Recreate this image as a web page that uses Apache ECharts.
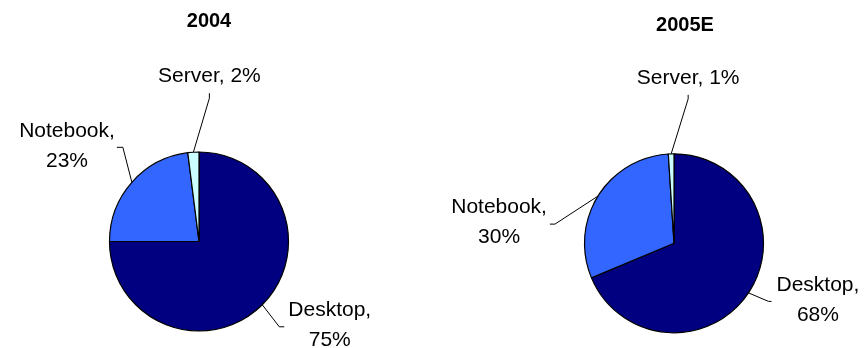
<!DOCTYPE html>
<html>
<head>
<meta charset="utf-8">
<title>PC unit mix by form factor</title>
<script src="https://cdn.jsdelivr.net/npm/echarts@6/dist/echarts.min.js"></script>
<style>
  html, body { margin: 0; padding: 0; background: #fff; }
  #chart { width: 866px; height: 348px; }
</style>
</head>
<body>
<div id="chart"></div>
<script>
// Form factors and their share of units (%)
const categories = ['Desktop', 'Notebook', 'Server'];
const share2004 = [75, 23, 2];
const share2005E = [68, 30, 1];
const yearTitles = ['2004', '2005E'];

const sliceColors = ['#000080', '#3366FF', '#CCFFFF'];
const FONT = "'Liberation Sans', Arial, sans-serif";

// Leader-line shape per slice: offsets from the slice's outer edge
// (bend point, line end), which side the label sits on, and spacing.
const guides2004 = [
  { bend: [17, 22], end: [22, 22], side: 'right', gap: 4, dy: -2 },
  { bend: [-9, -35], end: [-15, -35], side: 'left', gap: 2, dy: -1.5 },
  { bend: [16, -54], end: [16, -59], side: 'top', gap: 2 }
];
const guides2005E = [
  { bend: [20, 8.5], end: [23, 8.5], side: 'right', gap: 5, dy: -1.5 },
  { bend: [-43, 28], end: [-48, 28], side: 'left', gap: 3, dy: -2 },
  { bend: [17, -55], end: [17, -59], side: 'top', gap: 2 }
];

function placeLabels(guides) {
  return function (p) {
    const g = guides[p.dataIndex];
    const pts = p.labelLinePoints;
    if (!g || !pts) return {};
    const e = pts[0];
    const bend = [e[0] + g.bend[0], e[1] + g.bend[1]];
    const end = [e[0] + g.end[0], e[1] + g.end[1]];
    const w = p.labelRect.width;
    const h = p.labelRect.height;
    let x, y;
    if (g.side === 'right') {
      x = end[0] + g.gap + w / 2;
      y = end[1] + g.dy;
    } else if (g.side === 'left') {
      x = end[0] - g.gap - w / 2;
      y = end[1] + g.dy;
    } else {
      x = end[0];
      y = end[1] - g.gap - h / 2;
    }
    return {
      x: x, y: y, align: 'center', verticalAlign: 'middle',
      labelLinePoints: [e, bend, end]
    };
  };
}

function pieData(values) {
  return categories.map(function (name, i) {
    return { name: name, value: values[i], itemStyle: { color: sliceColors[i] } };
  });
}

function pieSeries(values, center, guides) {
  return {
    type: 'pie',
    center: center,
    radius: 89.5,
    startAngle: 90,
    clockwise: true,
    avoidLabelOverlap: false,
    silent: true,
    data: pieData(values),
    itemStyle: { borderColor: '#000', borderWidth: 1.2 },
    label: {
      show: true,
      position: 'outside',
      color: '#000',
      fontFamily: FONT,
      fontSize: 21,
      lineHeight: 30,
      formatter: function (p) {
        return p.name === 'Server'
          ? p.name + ', ' + p.value + '%'
          : p.name + ',\n' + p.value + '%';
      }
    },
    labelLine: {
      show: true,
      length: 20,
      length2: 5,
      smooth: false,
      lineStyle: { color: '#000', width: 1 }
    },
    labelLayout: placeLabels(guides)
  };
}

const chart = echarts.init(document.getElementById('chart'), null, { renderer: 'canvas' });
chart.setOption({
  animation: false,
  backgroundColor: '#fff',
  title: [
    {
      text: yearTitles[0], left: 209, top: 11.5, textAlign: 'center', padding: 0,
      textStyle: { fontFamily: FONT, fontSize: 20, fontWeight: 'bold', color: '#000' }
    },
    {
      text: yearTitles[1], left: 685, top: 15, textAlign: 'center', padding: 0,
      textStyle: { fontFamily: FONT, fontSize: 20, fontWeight: 'bold', color: '#000' }
    }
  ],
  series: [
    pieSeries(share2004, [199, 241.5], guides2004),
    pieSeries(share2005E, [674, 243.3], guides2005E)
  ]
});
</script>
</body>
</html>
